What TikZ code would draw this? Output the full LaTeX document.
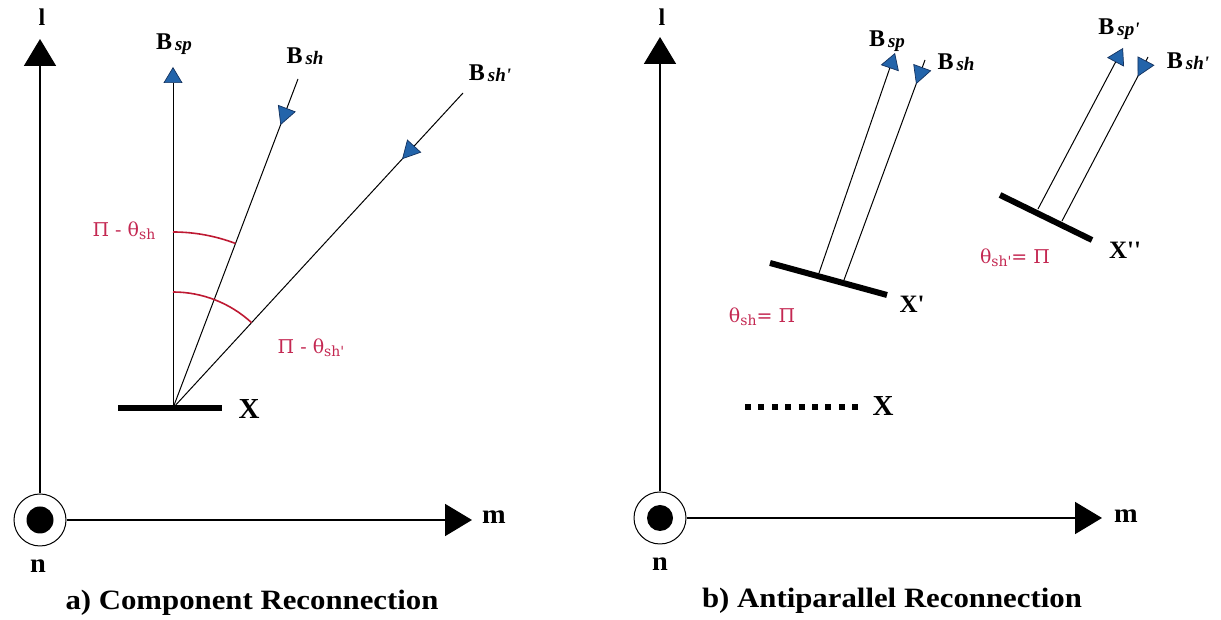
\documentclass[tikz,border=0pt]{standalone}
\usepackage{fontspec}
\setmainfont{Liberation Serif}
\newfontfamily\pifont{DejaVu Serif}
\usetikzlibrary{arrows.meta,decorations.markings}
\definecolor{bfill}{RGB}{35,100,170}
\definecolor{bdraw}{RGB}{20,50,95}
\definecolor{pilab}{RGB}{196,40,82}
\definecolor{arcred}{RGB}{190,25,50}
\newcommand{\Blab}[1]{{\fontsize{24}{24}\selectfont\bfseries B}\hspace{3pt}\raisebox{-1.5pt}{\fontsize{19}{19}\selectfont\bfseries\itshape #1}}
\newcommand{\pr}{\textquotesingle}
\newcommand{\thsub}[1]{θ\raisebox{-3pt}{\fontsize{14}{14}\selectfont #1}}
\tikzset{
  axis/.style={line width=1.8pt, -{Triangle[length=27pt,width=32pt]}},
  fline/.style={line width=1pt},
  bup/.style={fline, -{Triangle[length=16pt,width=19pt,fill=bfill,color=bdraw,line width=0.7pt]}},
  bdown/.style={fline, postaction={decorate},
    decoration={markings, mark=at position #1 with {\arrowreversed{Triangle[length=18pt,width=19pt,fill=bfill,color=bdraw,line width=0.7pt]}}}},
  xbar/.style={line width=6pt},
  axlab/.style={font=\fontsize{27}{27}\selectfont\bfseries, inner sep=0pt, xscale=1.05},
  llab/.style={font=\fontsize{24}{24}\selectfont\bfseries, inner sep=0pt},
  xlab/.style={font=\fontsize{29}{29}\selectfont\bfseries, inner sep=0pt},
  xplab/.style={font=\fontsize{25}{25}\selectfont\bfseries, inner sep=0pt},
  blab/.style={inner sep=0pt},
  caplab/.style={font=\fontsize{28}{28}\selectfont\bfseries, inner sep=0pt, xscale=1.1},
  pilabel/.style={text=pilab, font=\fontsize{19}{19}\selectfont\pifont, inner sep=0pt},
  origin/.style={circle, draw, line width=1pt, minimum size=52pt, inner sep=0pt},
  angarc/.style={arcred, line width=1.6pt}
}
\begin{document}
\begin{tikzpicture}[x=1pt,y=1pt]
\useasboundingbox (0,0) rectangle (1221,620);
\fill[white] (0,0) rectangle (1221,620);

% ---------- panel a ----------
\node[origin] (oa) at (40,100) {};
\fill (oa.center) circle (13.5);
\coordinate (la) at (40,581);
\coordinate (ma) at (472,100);
\draw[axis] (oa.north) -- (la);
\draw[axis] (oa.east) -- (ma);
\node[llab] (lla) at (42,603) {l};
\node[axlab] (mla) at (494,103) {m};
\node[axlab] (nla) at (38,54) {n};
\node[caplab] (capa) at (252,17) {a) Component Reconnection};

\coordinate (O) at (173,212);
\coordinate (bl) at (118,212);
\coordinate (br) at (222,212);
\draw[xbar] (bl) -- (br);
\node[xlab] (xa) at (249,211) {X};

\coordinate (bsp) at (173,553);
\coordinate (bsh) at (298,541);
\coordinate (bshp) at (463,527);
\draw[bup] (O) -- (bsp);
\draw[bdown=0.86] (O) -- (bsh);
\draw[bdown=0.79] (O) -- (bshp);
\node[blab] (lbsp) at (174,576) {\Blab{sp}};
\node[blab] (lbsh) at (305,564) {\Blab{sh}};
\node[blab] (lbshp) at (490,547) {\Blab{sh\pr}};

\draw[angarc] (173,388) arc[start angle=90, end angle=69.2, radius=176];
\draw[angarc] (173,328) arc[start angle=90, end angle=47.4, radius=116];
\node[pilabel] (pa1) at (124,389) {Π - \thsub{sh}};
\node[pilabel] (pa2) at (311,272) {Π - \thsub{sh\pr}};

% ---------- panel b ----------
\node[origin] (ob) at (660,102) {};
\fill (ob.center) circle (13);
\coordinate (lb) at (660,583);
\coordinate (mb) at (1102,102);
\draw[axis] (ob.north) -- (lb);
\draw[axis] (ob.east) -- (mb);
\node[llab] (llb) at (662,603) {l};
\node[axlab] (mlb) at (1126,104) {m};
\node[axlab] (nlb) at (660,56) {n};
\node[caplab] (capb) at (892,19) {b) Antiparallel Reconnection};

\coordinate (d1) at (745,213);
\coordinate (d2) at (858,213);
\draw[line width=6pt, dash pattern=on 6pt off 7.4pt] (d1) -- (d2);
\node[xlab] (xb) at (883,214) {X};

\coordinate (x1l) at (770,357);
\coordinate (x1r) at (887,325);
\draw[xbar] (x1l) -- (x1r);
\node[xplab] (xp) at (912,316) {X\pr};
\coordinate (s1) at (819,347);
\coordinate (s1t) at (895,567);
\coordinate (h1) at (844,340);
\coordinate (h1t) at (925,560);
\draw[bup] (s1) -- (s1t);
\draw[bdown=0.89] (h1) -- (h1t);
\node[blab] (lbsp2) at (887,579) {\Blab{sp}};
\node[blab] (lbsh2) at (956,558) {\Blab{sh}};
\node[pilabel] (pb1) at (762,303) {\thsub{sh}= Π};

\coordinate (x2l) at (1000,425);
\coordinate (x2r) at (1092,380);
\draw[xbar] (x2l) -- (x2r);
\node[xplab] (xpp) at (1125,370) {X\pr\pr};
\coordinate (s2) at (1038,411);
\coordinate (s2t) at (1123,572);
\coordinate (h2) at (1062,399);
\coordinate (h2t) at (1148,563);
\draw[bup] (s2) -- (s2t);
\draw[bdown=0.88] (h2) -- (h2t);
\node[blab] (lbsp3) at (1119,591) {\Blab{sp\pr}};
\node[blab] (lbsh3) at (1188,559) {\Blab{sh\pr}};
\node[pilabel] (pb2) at (1015,362) {\thsub{sh\pr}= Π};
\end{tikzpicture}
\end{document}
